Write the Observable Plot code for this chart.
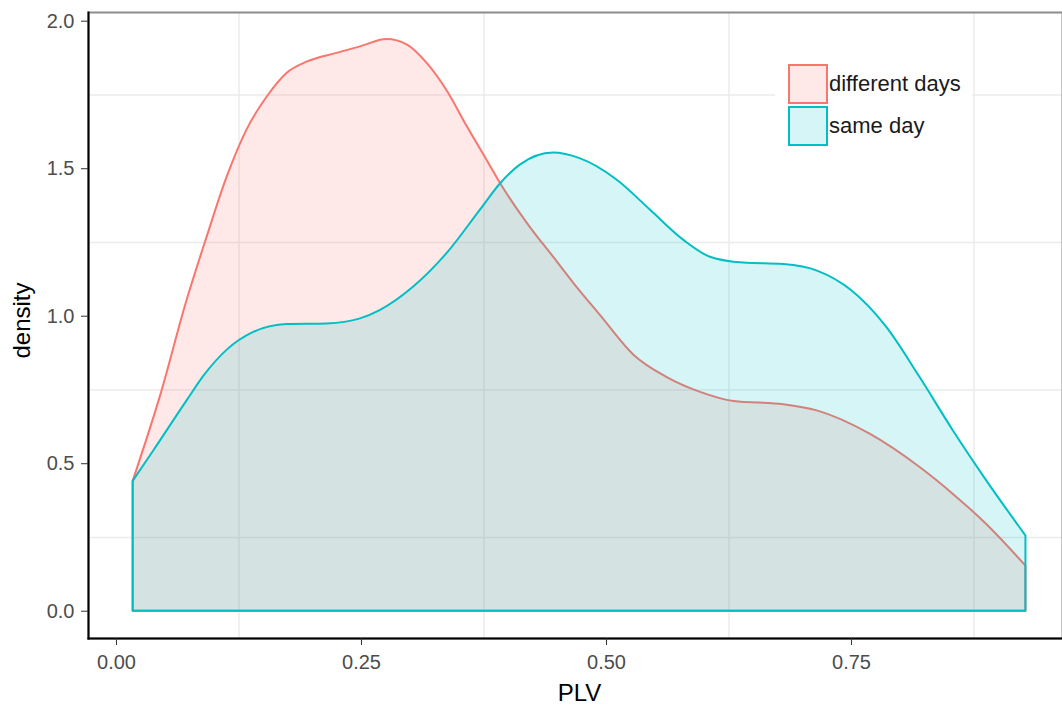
<!DOCTYPE html>
<html>
<head>
<meta charset="utf-8">
<script src="https://cdn.jsdelivr.net/npm/d3@7"></script>
<script src="https://cdn.jsdelivr.net/npm/@observablehq/plot@0.6"></script>
<style>
  html, body { margin: 0; padding: 0; background: #fff; }
  #wrap { position: relative; width: 1062px; height: 705px; font-family: "Liberation Sans", Arial, sans-serif; }
  #legend { position: absolute; left: 775px; top: 52px; width: 197px; height: 106px; background: #fff; }
  .item { position: absolute; left: 13px; height: 40px; display: flex; align-items: center; }
  .key { width: 36px; height: 36px; border: 2px solid; margin-right: 1px; }
  .lab { font-size: 22px; color: #1a1a1a; white-space: nowrap; }
</style>
</head>
<body>
<div id="wrap"></div>
<script>
// ---- data ----
const groups = ["different days", "same day"];
const colors = ["#F8766D", "#00BFC4"];

const diffX = [0.017, 0.045, 0.072, 0.0925, 0.113, 0.133, 0.154, 0.174, 0.195, 0.225, 0.249, 0.276, 0.297, 0.317, 0.337, 0.358, 0.378, 0.392, 0.422, 0.446, 0.467, 0.494, 0.528, 0.562, 0.596, 0.630, 0.681, 0.715, 0.769, 0.820, 0.854, 0.888, 0.928];
const diffY = [0.44, 0.73, 1.053, 1.268, 1.472, 1.63, 1.744, 1.823, 1.862, 1.891, 1.913, 1.938, 1.919, 1.857, 1.766, 1.642, 1.529, 1.449, 1.302, 1.200, 1.110, 1.002, 0.868, 0.792, 0.742, 0.711, 0.700, 0.679, 0.600, 0.487, 0.396, 0.294, 0.153];

const sameX = [0.017, 0.038, 0.072, 0.090, 0.113, 0.140, 0.174, 0.215, 0.249, 0.269, 0.303, 0.337, 0.371, 0.392, 0.412, 0.446, 0.473, 0.511, 0.545, 0.579, 0.606, 0.640, 0.681, 0.716, 0.750, 0.786, 0.820, 0.854, 0.888, 0.928];
const sameY = [0.44, 0.543, 0.713, 0.80, 0.885, 0.945, 0.972, 0.974, 0.991, 1.019, 1.098, 1.211, 1.358, 1.449, 1.512, 1.553, 1.534, 1.461, 1.359, 1.257, 1.200, 1.180, 1.175, 1.152, 1.087, 0.962, 0.792, 0.611, 0.442, 0.255];

const xTicks = [0, 0.25, 0.5, 0.75];
const yTicks = [0, 0.5, 1.0, 1.5, 2.0];
const xGrid = [0.125, 0.375, 0.625, 0.875];
const yGrid = [0.25, 0.75, 1.25, 1.75];
const xDomain = [-0.02857, 0.96531];
const yDomain = [-0.0925, 2.0295];

const data = [
  ...diffX.map((x, i) => ({group: groups[0], x, y: diffY[i]})),
  ...sameX.map((x, i) => ({group: groups[1], x, y: sameY[i]}))
];

const plot = Plot.plot({
  width: 1062,
  height: 705,
  marginLeft: 88,
  marginRight: 0,
  marginTop: 12,
  marginBottom: 67,
  style: {fontFamily: "'Liberation Sans', Arial, sans-serif", fontSize: "20px", background: "#fff"},
  x: {domain: xDomain},
  y: {domain: yDomain},
  color: {domain: groups, range: colors},
  marks: [
    Plot.gridX(xGrid, {stroke: "#ebebeb", strokeOpacity: 1, strokeWidth: 1.5}),
    Plot.gridY(yGrid, {stroke: "#ebebeb", strokeOpacity: 1, strokeWidth: 1.5}),
    Plot.areaY(data, {
      x: "x", y1: 0, y2: "y", z: "group", fill: "group", fillOpacity: 0.16,
      stroke: "group", strokeWidth: 2, curve: "monotone-x"
    }),
    Plot.frame({stroke: "#8c8c8c", strokeWidth: 2}),
    Plot.frame({anchor: "left", stroke: "#000", strokeWidth: 2}),
    Plot.frame({anchor: "bottom", stroke: "#000", strokeWidth: 2}),
    Plot.axisX(xTicks, {tickFormat: d3.format(".2f"), tickSize: 7, tickPadding: 9, fill: "#4d4d4d", stroke: "#333", label: null}),
    Plot.axisY(yTicks, {tickFormat: d3.format(".1f"), tickSize: 7, tickPadding: 7, fill: "#4d4d4d", stroke: "#333", label: null}),
    Plot.text(["PLV"], {frameAnchor: "bottom", dx: 4, dy: 62, fontSize: 24, fill: "#000"}),
    Plot.text(["density"], {frameAnchor: "left", rotate: -90, textAnchor: "middle", lineAnchor: "middle", dx: -66, dy: -5, fontSize: 24, fill: "#000"})
  ]
});

const wrap = document.getElementById("wrap");
wrap.appendChild(plot);

const legend = document.createElement("div");
legend.id = "legend";
groups.forEach((g, i) => {
  const item = document.createElement("div");
  item.className = "item";
  item.style.top = (12 + i * 42) + "px";
  const key = document.createElement("div");
  key.className = "key";
  key.style.borderColor = colors[i];
  const c = d3.color(colors[i]); c.opacity = 0.16;
  key.style.background = c.formatRgb();
  const lab = document.createElement("span");
  lab.className = "lab";
  lab.textContent = g;
  item.appendChild(key);
  item.appendChild(lab);
  legend.appendChild(item);
});
wrap.appendChild(legend);
</script>
</body>
</html>
